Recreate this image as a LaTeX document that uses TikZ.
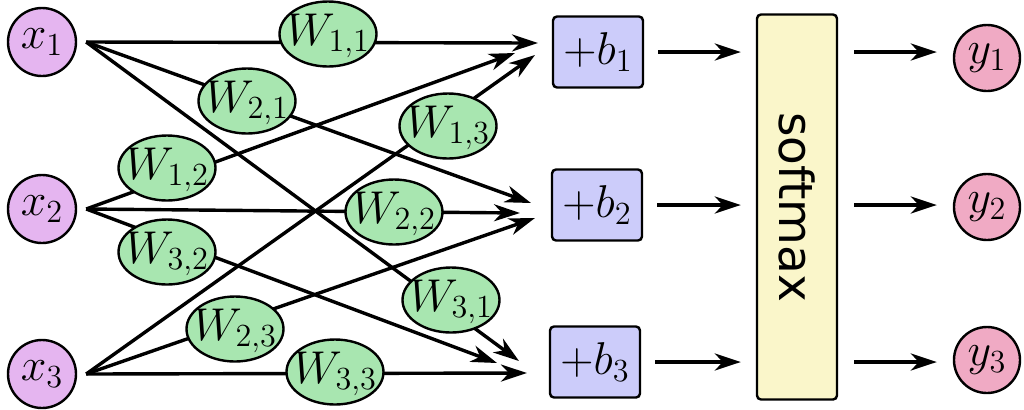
\RequirePackage{fix-cm}
\documentclass[tikz,border=0pt]{standalone}
\usepackage{fontspec}
\newfontfamily\smfont{DejaVu Sans}
\usetikzlibrary{arrows.meta,shapes.geometric,calc}
\definecolor{xcol}{RGB}{229,181,240}
\definecolor{wcol}{RGB}{168,230,176}
\definecolor{bcol}{RGB}{204,204,250}
\definecolor{scol}{RGB}{250,246,202}
\definecolor{ycol}{RGB}{240,170,196}
\newcommand\wlabel[1]{\makebox[0pt]{\raisebox{-5.5pt}[0pt][0pt]{$W_{#1}$}}}
\begin{document}
\begin{tikzpicture}[x=0.5pt,y=-0.5pt,
  every node/.style={font=\fontsize{23}{27}\selectfont},
  xin/.style={circle,draw,line width=1.2pt,fill=xcol,minimum size=34pt,inner sep=0pt},
  yout/.style={circle,draw,line width=1.2pt,fill=ycol,minimum size=33pt,inner sep=0pt},
  wnode/.style={ellipse,draw,line width=1.2pt,fill=wcol,minimum width=48.5pt,minimum height=32.5pt,inner sep=0pt},
  bbox/.style={rectangle,rounded corners=2pt,draw,line width=1.2pt,fill=bcol,minimum width=45pt,minimum height=35.5pt,inner sep=0pt},
  smbox/.style={rectangle,rounded corners=2pt,draw,line width=1.2pt,fill=scol,minimum width=40pt,minimum height=192.5pt,inner sep=0pt},
  conn/.style={line width=1.7pt,-{Stealth[length=13pt,width=8.5pt,inset=4pt]}},
]
\useasboundingbox (0,0) rectangle (1024,409);

% inputs
\node[xin] (x1) at (42,42) {$x_1$};
\node[xin] (x2) at (42,209) {$x_2$};
\node[xin] (x3) at (42,374) {$x_3$};

% bias boxes
\node[bbox] (b1) at (598,52) {$+b_1$};
\node[bbox] (b2) at (597,205) {$+b_2$};
\node[bbox] (b3) at (595,362) {$+b_3$};

% softmax
\node[smbox] (sm) at (797,207) {};
\node[rotate=-90,font=\smfont\fontsize{23.5}{27}\selectfont] (smt) at (sm.center) {softmax};

% outputs
\node[yout] (y1) at (987,58) {$y_1$};
\node[yout] (y2) at (987,207) {$y_2$};
\node[yout] (y3) at (987,360) {$y_3$};

% start points
\coordinate (s1) at ([xshift=4.5pt]x1.east);
\coordinate (s2) at ([xshift=4.5pt]x2.east);
\coordinate (s3) at ([xshift=4.5pt]x3.east);

% arrow tips near bias boxes
\coordinate (t11) at (538,43);
\coordinate (t12) at (515,53);
\coordinate (t13) at (535,55);
\coordinate (t21) at (531,203);
\coordinate (t22) at (520,213);
\coordinate (t23) at (535,218);
\coordinate (t31) at (519,361);
\coordinate (t32) at (497,363);
\coordinate (t33) at (527,373);

% weighted connections
\draw[conn] (s1) -- (t11);
\draw[conn] (s1) -- (t21);
\draw[conn] (s1) -- (t31);
\draw[conn] (s2) -- (t12);
\draw[conn] (s2) -- (t22);
\draw[conn] (s2) -- (t32);
\draw[conn] (s3) -- (t13);
\draw[conn] (s3) -- (t23);
\draw[conn] (s3) -- (t33);

% weights
\node[wnode] (w11) at (328,34) {\wlabel{1,1}};
\node[wnode] (w21) at (247,101) {\wlabel{2,1}};
\node[wnode] (w31) at (451,300) {\wlabel{3,1}};
\node[wnode] (w12) at (167,168) {\wlabel{1,2}};
\node[wnode] (w22) at (394,212) {\wlabel{2,2}};
\node[wnode] (w32) at (167,252) {\wlabel{3,2}};
\node[wnode] (w13) at (448,126) {\wlabel{1,3}};
\node[wnode] (w23) at (235,329) {\wlabel{2,3}};
\node[wnode] (w33) at (335,372) {\wlabel{3,3}};

% bias -> softmax
\draw[conn,shorten <=7pt,shorten >=7.5pt] (b1.east) -- (b1.east -| sm.west);
\draw[conn,shorten <=7pt,shorten >=7.5pt] (b2.east) -- (b2.east -| sm.west);
\draw[conn,shorten <=7pt,shorten >=7.5pt] (b3.east) -- (b3.east -| sm.west);

% softmax -> outputs
\draw[conn,shorten <=8pt,shorten >=8pt] (b1.east -| sm.east) -- (b1.east -| y1.west);
\draw[conn,shorten <=8pt,shorten >=8pt] (b2.east -| sm.east) -- (b2.east -| y2.west);
\draw[conn,shorten <=8pt,shorten >=8pt] (b3.east -| sm.east) -- (b3.east -| y3.west);
\end{tikzpicture}
\end{document}
